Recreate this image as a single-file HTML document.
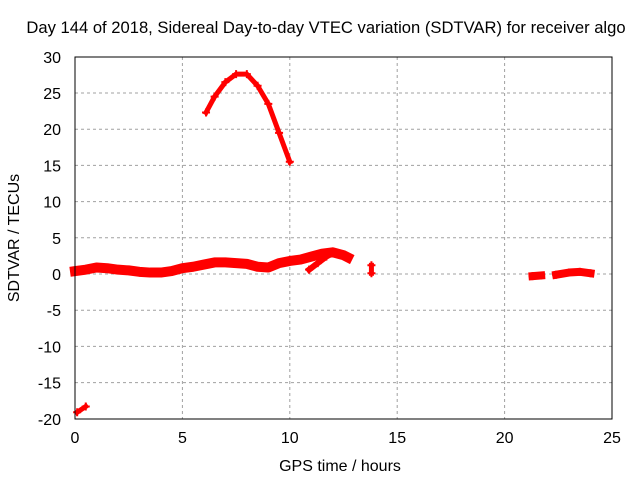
<!DOCTYPE html>
<html><head><meta charset="utf-8"><style>
body{margin:0;background:#fff}
svg{display:block;font-family:"Liberation Sans",sans-serif;font-size:16px}
</style></head><body>
<svg id="c" width="640" height="480">
<text x="326" y="33" text-anchor="middle" style="font-size:16.6px">Day 144 of 2018, Sidereal Day-to-day VTEC variation (SDTVAR) for receiver algo</text>
<text x="340" y="471" text-anchor="middle">GPS time / hours</text>
<text transform="translate(19,238) rotate(-90)" text-anchor="middle">SDTVAR / TECUs</text>
<g id="grid"></g>
<g id="ticks"></g>
<g id="marks"></g>
<rect x="75" y="57" width="537" height="362" fill="none" stroke="#000"/>
</svg>
<script>
const xTicks=[0,5,10,15,20,25];
const yTicks=[30,25,20,15,10,5,0,-5,-10,-15,-20];
const bandT=[0,0.5,1,1.5,2,2.5,3,3.5,4,4.5,5,5.5,6,6.5,7,7.5,8,8.5,9,9.5,10,10.5,11,11.5,12,12.5,12.7];
const bandV=[0.4,0.6,0.9,0.8,0.6,0.5,0.3,0.2,0.2,0.4,0.8,1.0,1.3,1.6,1.6,1.5,1.4,1.0,0.9,1.5,1.8,2.0,2.4,2.8,3.0,2.6,2.3];
const branchT=[10.9,11.3,11.7,12.0];
const branchV=[0.6,1.5,2.4,2.9];
const arcT=[6.1,6.5,7,7.5,8,8.5,9,9.5,10];
const arcV=[22.3,24.5,26.5,27.6,27.6,26,23.5,19.5,15.5];
const isoT=[13.8,13.8];
const isoV=[1.2,0.1];
const lowT=[0.1,0.5];
const lowV=[-19.1,-18.3];
const r1T=[21.3,21.7];
const r1V=[-0.3,-0.2];
const r2T=[22.4,23,23.5,24];
const r2V=[-0.1,0.2,0.3,0.1];
const X=t=>75+t*537/25, Y=v=>274-v*7.24;
const NS='http://www.w3.org/2000/svg';
function mk(tag,attrs,parent){const e=document.createElementNS(NS,tag);for(const k in attrs)e.setAttribute(k,attrs[k]);parent.appendChild(e);return e;}
const grid=document.getElementById('grid'),ticks=document.getElementById('ticks'),marks=document.getElementById('marks');
xTicks.forEach(t=>{
 if(t>0&&t<25){const l=mk('line',{x1:X(t),x2:X(t),y1:57,y2:419,stroke:'#a0a0a0','stroke-dasharray':'3,3'},grid);}
 const tx=mk('text',{x:X(t),y:443,'text-anchor':'middle'},ticks);tx.textContent=t;
 
});
yTicks.forEach(v=>{
 if(v<30&&v>-20){const l=mk('line',{x1:75,x2:612,y1:Y(v),y2:Y(v),stroke:'#a0a0a0','stroke-dasharray':'3,3'},grid);}
 const tx=mk('text',{x:61,y:Y(v)+6,'text-anchor':'end'},ticks);tx.textContent=v;
 
});
function series(T,V,w,name){
 const p=T.map((t,i)=>X(t)+','+Y(V[i])).join(' ');
 const pl=mk('polyline',{points:p,fill:'none',stroke:'#f00','stroke-width':w,'stroke-linejoin':'round','stroke-linecap':'square'},marks);
 
 
 T.forEach((t,i)=>{const x=X(t),y=Y(V[i]);
  const m=mk('path',{d:`M${x-4},${y}H${x+4}M${x},${y-4}V${y+4}`,stroke:'#f00','stroke-width':2},marks);
  
  });
}
series(bandT,bandV,10,'main-band');
series(branchT,branchV,6,'branch');
series(arcT,arcV,5,'arc');
series(isoT,isoV,5,'isolated-13-8');
series(lowT,lowV,5,'low-segment');
series(r1T,r1V,8,'right-segment-1');
series(r2T,r2V,8,'right-segment-2');
</script>
</body></html>
